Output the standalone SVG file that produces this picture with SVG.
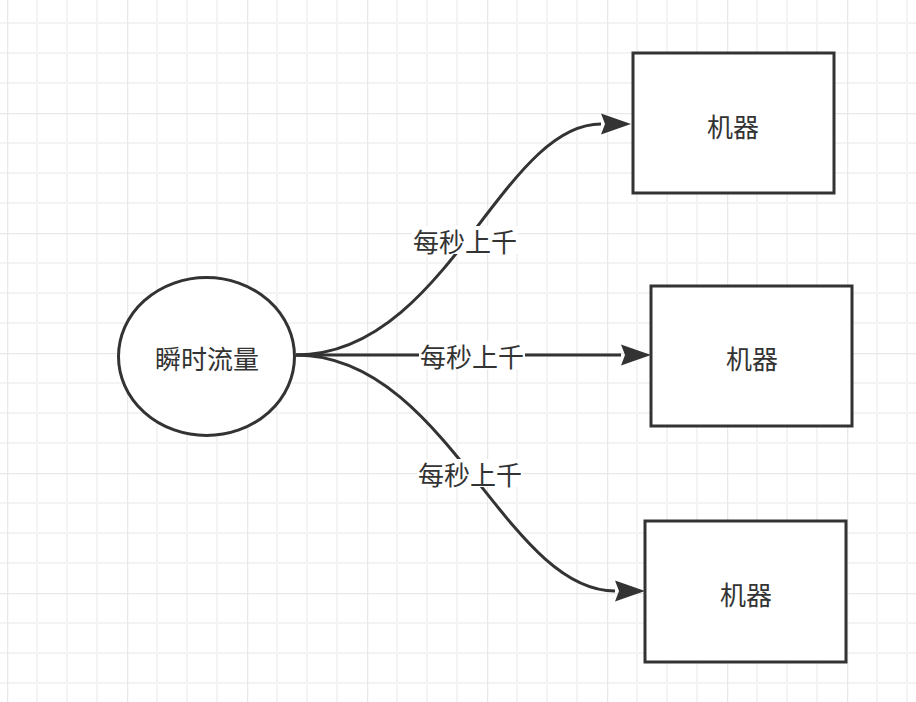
<svg xmlns="http://www.w3.org/2000/svg" width="916" height="702" viewBox="0 0 916 702">
<defs>
<pattern id="grid" x="7" y="113" width="120" height="120" patternUnits="userSpaceOnUse">
<path d="M30 0V120M60 0V120M90 0V120M0 30H120M0 60H120M0 90H120" stroke="#f3f3f3" stroke-width="2" fill="none"/>
<path d="M0 0V120M0 0H120" stroke="#e8e8e8" stroke-width="2.5" fill="none"/>
</pattern>
<marker id="arr" markerUnits="userSpaceOnUse" markerWidth="32" markerHeight="24" refX="0" refY="11" orient="auto">
<path d="M0 0.5L30 11L0 21.5L4 11Z" fill="#333"/>
</marker>
<style>
.node{fill:#fff;stroke:#333;stroke-width:3}
.edge{fill:none;stroke:#333;stroke-width:3;marker-end:url(#arr)}
.t{font-family:"Noto Sans CJK SC","Noto Sans",sans-serif;font-size:26px;fill:#333;text-anchor:middle;dominant-baseline:central}
.lb{fill:#fff}
</style>
</defs>
<rect width="916" height="702" fill="#fff"/>
<rect width="916" height="702" fill="url(#grid)"/>
<g id="connectors">
<path class="edge" d="M296 355C446 355 501 124 601 124"/>
<path class="edge" d="M296 355H621"/>
<path class="edge" d="M296 355C446 355 505 591 615 591"/>
<g id="labels">
<rect class="lb" x="412" y="226" width="106" height="28"/>
<text class="t" x="465" y="240">每秒上千</text>
<rect class="lb" x="419" y="341" width="106" height="28"/>
<text class="t" x="472" y="355">每秒上千</text>
<rect class="lb" x="417" y="459" width="106" height="28"/>
<text class="t" x="470" y="473">每秒上千</text>
</g>
</g>
<g id="source">
<ellipse class="node" cx="206.5" cy="356.5" rx="88" ry="79"/>
<text class="t" x="207" y="357">瞬时流量</text>
</g>
<g id="m1">
<rect class="node" x="633" y="53" width="201" height="140"/>
<text class="t" x="733" y="125">机器</text>
</g>
<g id="m2">
<rect class="node" x="651" y="286" width="201" height="140"/>
<text class="t" x="752" y="357">机器</text>
</g>
<g id="m3">
<rect class="node" x="645" y="521" width="201" height="141"/>
<text class="t" x="746" y="593">机器</text>
</g>
</svg>
